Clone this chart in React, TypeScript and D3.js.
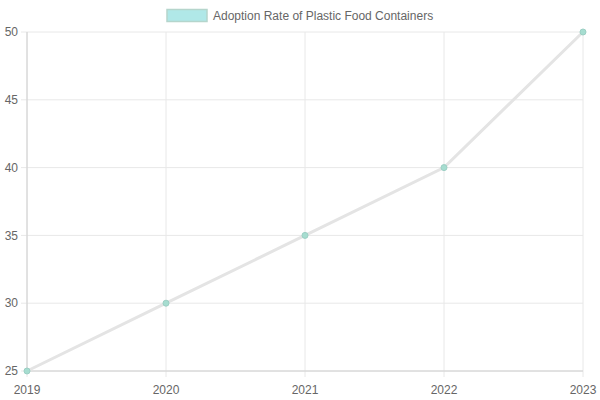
import React from "react";
import * as d3 from "d3";

const years = ["2019", "2020", "2021", "2022", "2023"];
const adoption = [25, 30, 35, 40, 50];
const yTicks = [25, 30, 35, 40, 45, 50];
const seriesLabel = "Adoption Rate of Plastic Food Containers";

export default function App() {
  const W = 600, H = 400;
  const left = 27, right = 583, top = 32, bottom = 371;
  const x = d3.scalePoint<string>().domain(years).range([left, right]);
  const y = d3.scaleLinear().domain([25, 50]).range([bottom, top]);
  const line = d3.line<number>().x((_, i) => x(years[i])!).y((d) => y(d));
  const font = "'Liberation Sans', Arial, Helvetica, sans-serif";
  return (
    <svg width={W} height={H} style={{ position: "absolute", left: 0, top: 0 }} fontFamily={font}>
      <rect width={W} height={H} fill="#fff" />
      {yTicks.map((t) => (
        <g key={t}>
          <line x1={left - 6} x2={right} y1={y(t)} y2={y(t)} stroke="#e8e8e8" strokeWidth={1} />
          <text x={left - 9} y={y(t)} dy="0.35em" textAnchor="end" fontSize={12} fill="#666">{t}</text>
        </g>
      ))}
      {years.map((yr) => (
        <g key={yr}>
          <line x1={x(yr)} x2={x(yr)} y1={top} y2={bottom + 6} stroke="#e8e8e8" strokeWidth={1} />
          <text x={x(yr)} y={bottom + 19} dy="0.35em" textAnchor="middle" fontSize={12} fill="#666">{yr}</text>
        </g>
      ))}
      <line x1={left} x2={right} y1={bottom} y2={bottom} stroke="#d0d0d0" />
      <line x1={left} x2={left} y1={top} y2={bottom} stroke="#d0d0d0" />
      <path d={line(adoption)!} fill="none" stroke="#e4e4e4" strokeWidth={3} />
      {adoption.map((v, i) => (
        <circle key={i} cx={x(years[i])} cy={y(v)} r={3} fill="#a6ddd0" stroke="#9ccfc4" strokeWidth={1} />
      ))}
      <g>
        <rect x={167} y={9.5} width={40} height={12} fill="#b0e8e8" stroke="#b5d5cc" strokeWidth={1.5} />
        <text x={213} y={15.5} dy="0.35em" fontSize={12} fill="#666">{seriesLabel}</text>
      </g>
    </svg>
  );
}
